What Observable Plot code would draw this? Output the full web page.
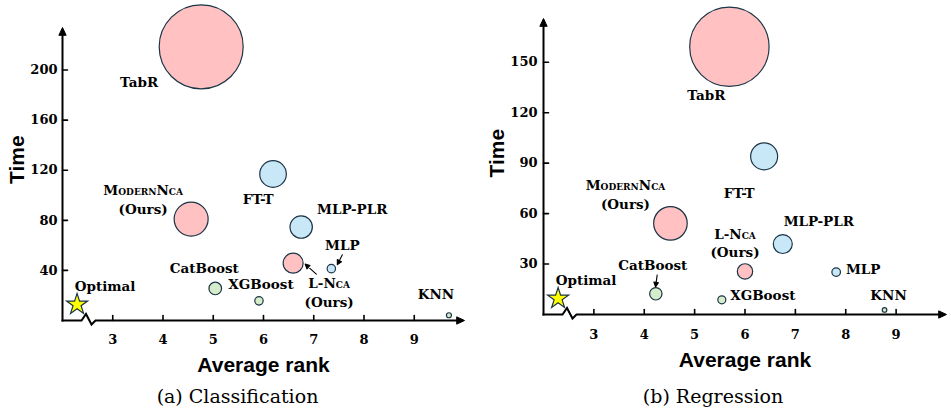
<!DOCTYPE html>
<html><head><meta charset="utf-8">
<script src="https://cdn.jsdelivr.net/npm/d3@7"></script>
<script src="https://cdn.jsdelivr.net/npm/@observablehq/plot@0.6"></script>
<style>
body{margin:0;background:#fff;}
#wrap{display:flex;width:951px;}
.panel{display:flex;flex-direction:column;}
.cap{font-family:"DejaVu Serif";font-size:19px;height:30px;line-height:32px;text-align:center;color:#000;}
</style></head><body><div id="wrap"></div>
<script>
// ---------------- data ----------------
const models = ["TabR","ModernNCA","FT-T","MLP-PLR","L-NCA","MLP","CatBoost","XGBoost","KNN"];
const family = ["neighbor","neighbor","mlp","mlp","neighbor","mlp","classic","classic","classic"];
const clsRank = [4.76,4.56,6.19,6.75,6.59,7.35,5.04,5.91,9.69];
const clsTime = [218.6,81.0,117.0,74.6,45.8,41.4,25.6,15.7,4.2];
const clsCost = [1764,289,177,125,100,17.6,39.7,17.6,6.3];
const regRank = [5.69,4.52,6.38,6.75,6.00,7.81,4.23,5.54,8.77];
const regTime = [159.2,54.2,94.0,41.9,25.6,25.2,12.3,8.7,2.7];
const regCost = [1576,282,182,90,59,18.5,38.4,16,5.3];
const optimalRank = [2.29, 2.29];
const optimalTime = [12.8, 9.5];
const xTicks = [3,4,5,6,7,8,9];
const clsYTicks = [40,80,120,160,200];
const regYTicks = [30,60,90,120,150];
const labelLines = {"ModernNCA": ["ModernNca","(Ours)"], "L-NCA": ["L-Nca","(Ours)"]};
const captions = ["(a) Classification", "(b) Regression"];

// ---------------- layout / style ----------------
const FAMILY_COLORS = {domain: ["neighbor","mlp","classic"], range: ["#ffc1c1","#c8e8f8","#d6edcb"]};
const EDGE = "#1b3446";
const LABEL_FONT = {fontFamily: "DejaVu Serif", fontWeight: "bold", fontSize: 13.5, fill: "black"};
const TITLE_FONT = {fontFamily: "Liberation Sans", fontWeight: "bold", fontSize: 21, fill: "black"};

const layouts = [
  {width:475, height:380, marginLeft:62, marginRight:11, marginTop:27, marginBottom:60, yMax:234,
   xPad:14, yPad:5,
   labels:{"TabR":[-62,36],"ModernNCA":[-48,-28,19],"FT-T":[-15,26],"MLP-PLR":[51,-17],"L-NCA":[36,21,18.4],
           "MLP":[11,-23],"CatBoost":[-11,-20],"XGBoost":[2,-16],"KNN":[-13,-21]},
   optimalLabel:[28,-18],
   pointers:[{model:"MLP",dx:6,dy:-4,len:11,rot:207},{model:"L-NCA",dx:12,dy:1,len:15,rot:312}],
   timeTitle:[-45,10], rankTitle:45},
  {width:476, height:380, marginLeft:68, marginRight:5, marginTop:18, marginBottom:66, yMax:176,
   xPad:15, yPad:6,
   labels:{"TabR":[-23,49],"ModernNCA":[-45,-38,19.7],"FT-T":[-25,37],"MLP-PLR":[36,-22],"L-NCA":[-10,-37,18.4],
           "MLP":[27,-2],"CatBoost":[-3,-28],"XGBoost":[41,-4],"KNN":[4,-14]},
   optimalLabel:[28,-18],
   pointers:[{model:"CatBoost",dx:-0.3,dy:-7,len:12,rot:188}],
   timeTitle:[-46,11], rankTitle:46}
];

const shape = (fn) => ({draw: fn});

function panel(k, rank, time, cost, yTicks, L) {
  const idx = models.map((_, i) => i);
  const frameW = L.width - L.marginLeft - L.marginRight;
  const frameH = L.height - L.marginTop - L.marginBottom;
  const marks = [];
  // axes lines
  marks.push(Plot.vector([0], {x: 2, y: 0, length: frameW, rotate: 0, anchor: "start", stroke: "black", strokeWidth: 2, strokeLinecap: "square", strokeLinejoin: "miter",
    shape: shape((c, l) => { c.moveTo(0,0); c.lineTo(19,0); c.lineTo(23.5,-6.5); c.lineTo(29,4); c.lineTo(33,0); c.lineTo(l - 3,0); })}));
  marks.push(Plot.vector([0], {x: 2, y: 0, length: frameH, rotate: 0, anchor: "start", stroke: "black", strokeWidth: 2, strokeLinecap: "square",
    shape: shape((c, l) => { c.moveTo(0,0); c.lineTo(0, -l + 3); })}));
  // arrow heads
  marks.push(Plot.vector([0], {x: 10, y: 0, length: 1, anchor: "start", stroke: "black", fill: "black", strokeWidth: 1,
    shape: shape((c) => { c.moveTo(-7.5,-3.5); c.lineTo(0,0); c.lineTo(-7.5,3.5); c.closePath(); })}));
  marks.push(Plot.vector([0], {x: 2, y: L.yMax, length: 1, anchor: "start", stroke: "black", fill: "black", strokeWidth: 1,
    shape: shape((c) => { c.moveTo(-3.5,7.5); c.lineTo(0,0); c.lineTo(3.5,7.5); c.closePath(); })}));
  // ticks (pointing inward)
  marks.push(Plot.vector(xTicks, {x: d => d, y: 0, length: 5, anchor: "start", stroke: "black", strokeWidth: 1.6,
    shape: shape((c, l) => { c.moveTo(0,0); c.lineTo(0,-l); })}));
  marks.push(Plot.vector(yTicks, {x: 2, y: d => d, length: 5, anchor: "start", stroke: "black", strokeWidth: 1.6,
    shape: shape((c, l) => { c.moveTo(0,0); c.lineTo(l,0); })}));
  // tick labels
  marks.push(Plot.axisX({ticks: xTicks, tickSize: 0, tickPadding: L.xPad, label: null, tickFormat: d => String(d), fill: "black"}));
  marks.push(Plot.axisY({ticks: yTicks, tickSize: 0, tickPadding: L.yPad, label: null, tickFormat: d => String(d), fill: "black"}));
  // titles
  marks.push(Plot.text(["Time"], {frameAnchor: "left", text: d => d, rotate: -90, dx: L.timeTitle[0], dy: L.timeTitle[1], ...TITLE_FONT}));
  marks.push(Plot.text(["Average rank"], {frameAnchor: "bottom", text: d => d, dy: L.rankTitle, lineAnchor: "middle", ...TITLE_FONT}));
  // bubbles
  marks.push(Plot.dot(idx, {x: i => rank[i], y: i => time[i], r: i => cost[i], fill: i => family[i], stroke: EDGE, strokeWidth: 1.2}));
  // optimal star
  marks.push(Plot.dot([k], {x: i => optimalRank[i], y: i => optimalTime[i], r: 6.6, symbol: "star", fill: "#ffff00", stroke: EDGE, strokeWidth: 1.2}));
  marks.push(Plot.text([k], {x: i => optimalRank[i], y: i => optimalTime[i], text: () => "Optimal", dx: L.optimalLabel[0], dy: L.optimalLabel[1], textAnchor: "middle", lineAnchor: "middle", ...LABEL_FONT}));
  // labels
  models.forEach((m, i) => {
    const off = L.labels[m];
    const lines = labelLines[m] || [m];
    lines.forEach((txt, j) => {
      marks.push(Plot.text([i], {x: j2 => rank[j2], y: j2 => time[j2], text: () => txt,
        dx: off[0], dy: off[1] + j * (off[2] || 0), textAnchor: "middle", lineAnchor: "middle",
        fontVariant: (labelLines[m] && j === 0) ? "small-caps" : "normal", ...LABEL_FONT}));
    });
  });
  // pointer arrows
  L.pointers.forEach(p => {
    const i = models.indexOf(p.model);
    marks.push(Plot.vector([i], {x: j => rank[j], y: j => time[j], length: p.len, rotate: p.rot, anchor: "end", dx: p.dx, dy: p.dy,
      stroke: "black", fill: "black", strokeWidth: 1.1,
      shape: shape((c, l) => { c.moveTo(0,0); c.lineTo(0,-l + 3); c.moveTo(-2.3,-l + 4.5); c.lineTo(0,-l); c.lineTo(2.3,-l + 4.5); c.closePath(); })}));
  });
  return Plot.plot({
    width: L.width, height: L.height,
    marginLeft: L.marginLeft, marginRight: L.marginRight, marginTop: L.marginTop, marginBottom: L.marginBottom,
    x: {domain: [2, 10]},
    y: {domain: [0, L.yMax]},
    r: {type: "sqrt", domain: [0, 1764], range: [0, 42]},
    color: FAMILY_COLORS,
    style: {background: "white", overflow: "visible", fontFamily: "DejaVu Serif", fontWeight: "bold", fontSize: "13px", color: "black"},
    marks
  });
}

const wrap = document.getElementById("wrap");
const sets = [[clsRank, clsTime, clsCost, clsYTicks], [regRank, regTime, regCost, regYTicks]];
sets.forEach(([r, t, c, yt], k) => {
  const div = document.createElement("div");
  div.className = "panel";
  div.style.width = layouts[k].width + "px";
  div.appendChild(panel(k, r, t, c, yt, layouts[k]));
  const cap = document.createElement("div");
  cap.className = "cap";
  cap.textContent = captions[k];
  div.appendChild(cap);
  wrap.appendChild(div);
});
</script>
</body></html>
